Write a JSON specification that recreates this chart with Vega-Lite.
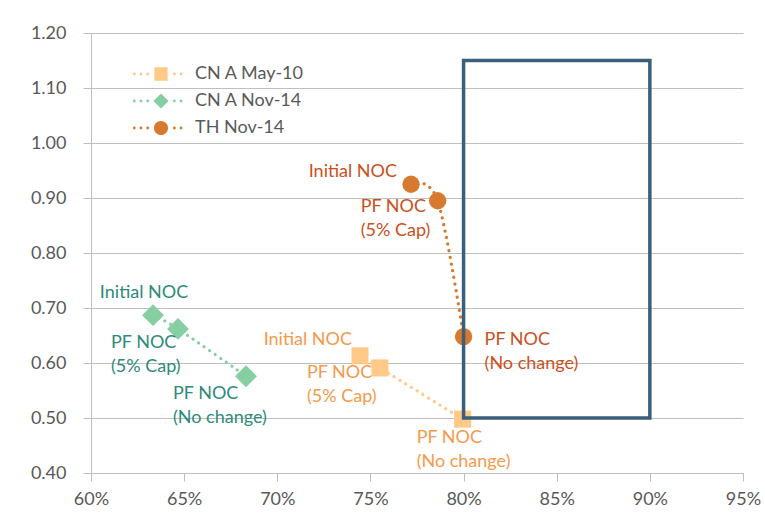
{
  "$schema": "https://vega.github.io/schema/vega-lite/v6.json",
  "width": 652,
  "height": 440,
  "autosize": {"type": "none"},
  "padding": {"left": 91, "top": 33, "right": 22, "bottom": 48},
  "background": "#ffffff",
  "config": {
    "view": {"stroke": null},
    "font": "Lato",
    "axis": {"labelFont": "Lato", "labelFontSize": 18, "labelColor": "#595959", "domainColor": "#BFBFBF", "tickColor": "#BFBFBF", "gridColor": "#BFBFBF", "tickSize": 8, "title": null},
    "legend": {"padding": 0, "symbolSize": 256, "labelFontSize": 18, "labelFont": "Lato", "labelColor": "#595959", "labelOffset": 25, "rowPadding": 9}
  },
  "datasets": {
    "pts": [
      {"series": "CN A May-10", "ord": 1, "id": "o1", "x": 0.7444, "y": 0.613, "label": "Initial NOC"},
      {"series": "CN A May-10", "ord": 2, "id": "o2", "x": 0.7551, "y": 0.591, "label": "PF NOC\n(5% Cap)"},
      {"series": "CN A May-10", "ord": 3, "id": "o3", "x": 0.7995, "y": 0.498, "label": "PF NOC\n(No change)"},
      {"series": "CN A Nov-14", "ord": 1, "id": "g1", "x": 0.6333, "y": 0.687, "label": "Initial NOC"},
      {"series": "CN A Nov-14", "ord": 2, "id": "g2", "x": 0.6467, "y": 0.662, "label": "PF NOC\n(5% Cap)"},
      {"series": "CN A Nov-14", "ord": 3, "id": "g3", "x": 0.6832, "y": 0.576, "label": "PF NOC\n(No change)"},
      {"series": "TH Nov-14", "ord": 1, "id": "t1", "x": 0.7718, "y": 0.925, "label": "Initial NOC"},
      {"series": "TH Nov-14", "ord": 2, "id": "t2", "x": 0.7861, "y": 0.895, "label": "PF NOC\n(5% Cap)"},
      {"series": "TH Nov-14", "ord": 3, "id": "t3", "x": 0.8, "y": 0.648, "label": "PF NOC\n(No change)"}
    ],
    "box": [{"x1": 0.8, "x2": 0.9, "y1": 0.5, "y2": 1.15}]
  },
  "layer": [
    {
      "data": {"name": "pts"},
      "mark": {"type": "line", "interpolate": "cardinal", "strokeDash": [0.1, 6.6], "strokeCap": "round", "strokeWidth": 3.2},
      "encoding": {
        "x": {"field": "x", "type": "quantitative", "scale": {"domain": [0.6, 0.95], "nice": false, "zero": false},
              "axis": {"values": [0.6, 0.65, 0.7, 0.75, 0.8, 0.85, 0.9, 0.95], "format": ".0%", "grid": false, "labelPadding": 9, "labelFlush": false}},
        "y": {"field": "y", "type": "quantitative", "scale": {"domain": [0.4, 1.2], "nice": false, "zero": false},
              "axis": {"values": [0.4, 0.5, 0.6, 0.7, 0.8, 0.9, 1.0, 1.1, 1.2], "format": ".2f", "grid": true, "labelPadding": 17}},
        "stroke": {"field": "series", "type": "nominal", "scale": {"range": ["#FFC987", "#86CFA3", "#D77A30"]}, "legend": null},
        "order": {"field": "ord", "type": "quantitative"}
      }
    },
    {
      "data": {"name": "pts"},
      "transform": [{"filter": "datum.ord > 10"}],
      "mark": {"type": "point", "filled": true, "opacity": 1},
      "encoding": {
        "x": {"field": "x", "type": "quantitative"},
        "y": {"field": "y", "type": "quantitative"},
        "color": {"field": "series", "type": "nominal", "scale": {"domain": ["CN A May-10", "CN A Nov-14", "TH Nov-14"], "range": ["#FFC987", "#86CFA3", "#D77A30"]},
          "legend": {"title": null, "orient": "none", "legendX": 61, "legendY": 32}},
        "shape": {"field": "series", "type": "nominal", "scale": {"domain": ["CN A May-10", "CN A Nov-14", "TH Nov-14"], "range": [
          "M-0.83,-0.83H0.83V0.83H-0.83ZM-3.52,0a0.18,0.18 0 1,0 0.36,0a0.18,0.18 0 1,0 -0.36,0M-2.68,0a0.18,0.18 0 1,0 0.36,0a0.18,0.18 0 1,0 -0.36,0M-1.85,0a0.18,0.18 0 1,0 0.36,0a0.18,0.18 0 1,0 -0.36,0M1.49,0a0.18,0.18 0 1,0 0.36,0a0.18,0.18 0 1,0 -0.36,0M2.32,0a0.18,0.18 0 1,0 0.36,0a0.18,0.18 0 1,0 -0.36,0",
          "M0,-0.95L0.95,0L0,0.95L-0.95,0ZM-3.52,0a0.18,0.18 0 1,0 0.36,0a0.18,0.18 0 1,0 -0.36,0M-2.68,0a0.18,0.18 0 1,0 0.36,0a0.18,0.18 0 1,0 -0.36,0M-1.85,0a0.18,0.18 0 1,0 0.36,0a0.18,0.18 0 1,0 -0.36,0M1.49,0a0.18,0.18 0 1,0 0.36,0a0.18,0.18 0 1,0 -0.36,0M2.32,0a0.18,0.18 0 1,0 0.36,0a0.18,0.18 0 1,0 -0.36,0",
          "M-0.88,0a0.88,0.88 0 1,0 1.76,0a0.88,0.88 0 1,0 -1.76,0ZM-3.52,0a0.18,0.18 0 1,0 0.36,0a0.18,0.18 0 1,0 -0.36,0M-2.68,0a0.18,0.18 0 1,0 0.36,0a0.18,0.18 0 1,0 -0.36,0M-1.85,0a0.18,0.18 0 1,0 0.36,0a0.18,0.18 0 1,0 -0.36,0M1.49,0a0.18,0.18 0 1,0 0.36,0a0.18,0.18 0 1,0 -0.36,0M2.32,0a0.18,0.18 0 1,0 0.36,0a0.18,0.18 0 1,0 -0.36,0"]},
          "legend": {"title": null, "orient": "none", "legendX": 61, "legendY": 32}}
      }
    },
    {
      "data": {"name": "pts"},
      "transform": [{"filter": "datum.series === 'CN A May-10'"}],
      "mark": {"type": "point", "filled": true, "opacity": 1, "shape": "square", "size": 290, "color": "#FFC987"},
      "encoding": {"x": {"field": "x", "type": "quantitative"}, "y": {"field": "y", "type": "quantitative"}}
    },
    {
      "data": {"name": "pts"},
      "transform": [{"filter": "datum.series === 'CN A Nov-14'"}],
      "mark": {"type": "point", "filled": true, "opacity": 1, "shape": "diamond", "size": 480, "color": "#86CFA3"},
      "encoding": {"x": {"field": "x", "type": "quantitative"}, "y": {"field": "y", "type": "quantitative"}}
    },
    {
      "data": {"name": "pts"},
      "transform": [{"filter": "datum.series === 'TH Nov-14'"}],
      "mark": {"type": "point", "filled": true, "opacity": 1, "shape": "circle", "size": 300, "color": "#D77A30"},
      "encoding": {"x": {"field": "x", "type": "quantitative"}, "y": {"field": "y", "type": "quantitative"}}
    },
    {
      "data": {"name": "box"},
      "mark": {"type": "rect", "fillOpacity": 0, "stroke": "#3B5E7B", "strokeWidth": 3.5},
      "encoding": {
        "x": {"field": "x1", "type": "quantitative"},
        "x2": {"field": "x2"},
        "y": {"field": "y1", "type": "quantitative"},
        "y2": {"field": "y2"}
      }
    },
    {
      "data": {"name": "pts"},
      "transform": [{"filter": "datum.id === 'g1'"}],
      "mark": {"type": "text", "align": "center", "baseline": "top", "dx": -9, "dy": -31, "fontSize": 18, "font": "Lato", "lineBreak": "\n", "lineHeight": 24, "fill": "#2E8A79"},
      "encoding": {"x": {"field": "x", "type": "quantitative"}, "y": {"field": "y", "type": "quantitative"}, "text": {"field": "label"}}
    },
    {
      "data": {"name": "pts"},
      "transform": [{"filter": "datum.id === 'g2'"}],
      "mark": {"type": "text", "align": "left", "baseline": "top", "dx": -67, "dy": 5, "fontSize": 18, "font": "Lato", "lineBreak": "\n", "lineHeight": 24, "fill": "#2E8A79"},
      "encoding": {"x": {"field": "x", "type": "quantitative"}, "y": {"field": "y", "type": "quantitative"}, "text": {"field": "label"}}
    },
    {
      "data": {"name": "pts"},
      "transform": [{"filter": "datum.id === 'g3'"}],
      "mark": {"type": "text", "align": "left", "baseline": "top", "dx": -73, "dy": 9, "fontSize": 18, "font": "Lato", "lineBreak": "\n", "lineHeight": 24, "fill": "#2E8A79"},
      "encoding": {"x": {"field": "x", "type": "quantitative"}, "y": {"field": "y", "type": "quantitative"}, "text": {"field": "label"}}
    },
    {
      "data": {"name": "pts"},
      "transform": [{"filter": "datum.id === 'o1'"}],
      "mark": {"type": "text", "align": "right", "baseline": "top", "dx": -8, "dy": -25, "fontSize": 18, "font": "Lato", "lineBreak": "\n", "lineHeight": 24, "fill": "#F59A4C"},
      "encoding": {"x": {"field": "x", "type": "quantitative"}, "y": {"field": "y", "type": "quantitative"}, "text": {"field": "label"}}
    },
    {
      "data": {"name": "pts"},
      "transform": [{"filter": "datum.id === 'o2'"}],
      "mark": {"type": "text", "align": "left", "baseline": "top", "dx": -73, "dy": -4, "fontSize": 18, "font": "Lato", "lineBreak": "\n", "lineHeight": 24, "fill": "#F59A4C"},
      "encoding": {"x": {"field": "x", "type": "quantitative"}, "y": {"field": "y", "type": "quantitative"}, "text": {"field": "label"}}
    },
    {
      "data": {"name": "pts"},
      "transform": [{"filter": "datum.id === 'o3'"}],
      "mark": {"type": "text", "align": "left", "baseline": "top", "dx": -46, "dy": 10, "fontSize": 18, "font": "Lato", "lineBreak": "\n", "lineHeight": 24, "fill": "#F59A4C"},
      "encoding": {"x": {"field": "x", "type": "quantitative"}, "y": {"field": "y", "type": "quantitative"}, "text": {"field": "label"}}
    },
    {
      "data": {"name": "pts"},
      "transform": [{"filter": "datum.id === 't1'"}],
      "mark": {"type": "text", "align": "right", "baseline": "top", "dx": -14, "dy": -21, "fontSize": 18, "font": "Lato", "lineBreak": "\n", "lineHeight": 24, "fill": "#C9511D"},
      "encoding": {"x": {"field": "x", "type": "quantitative"}, "y": {"field": "y", "type": "quantitative"}, "text": {"field": "label"}}
    },
    {
      "data": {"name": "pts"},
      "transform": [{"filter": "datum.id === 't2'"}],
      "mark": {"type": "text", "align": "left", "baseline": "top", "dx": -77, "dy": -3, "fontSize": 18, "font": "Lato", "lineBreak": "\n", "lineHeight": 24, "fill": "#C9511D"},
      "encoding": {"x": {"field": "x", "type": "quantitative"}, "y": {"field": "y", "type": "quantitative"}, "text": {"field": "label"}}
    },
    {
      "data": {"name": "pts"},
      "transform": [{"filter": "datum.id === 't3'"}],
      "mark": {"type": "text", "align": "left", "baseline": "top", "dx": 21, "dy": -6, "fontSize": 18, "font": "Lato", "lineBreak": "\n", "lineHeight": 24, "fill": "#C9511D"},
      "encoding": {"x": {"field": "x", "type": "quantitative"}, "y": {"field": "y", "type": "quantitative"}, "text": {"field": "label"}}
    }
  ]
}
